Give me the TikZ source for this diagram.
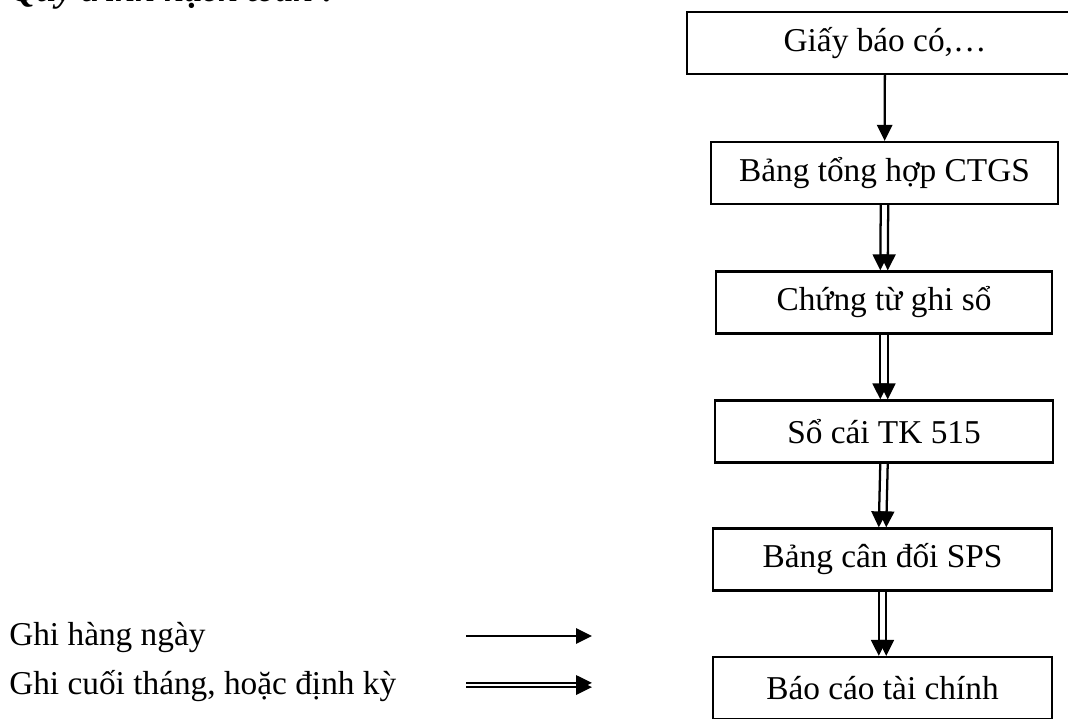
\documentclass[tikz,border=0pt]{standalone}
\usepackage{fontspec}
\setmainfont{Liberation Serif}
\usetikzlibrary{arrows.meta,positioning}

\begin{document}
\begin{tikzpicture}[x=0.75pt,y=-0.75pt]
    \tikzstyle{every node}+=[inner sep=0pt, font=\fontsize{25}{29}\selectfont]
    \tikzstyle{box}=[draw, line width=1.7pt, minimum height=46.5pt]
    \tikzstyle{tip}=[-{Triangle[length=12pt,width=11.5pt]}, line width=1.7pt]
    \useasboundingbox (0,0) rectangle (1068,718);
    % title, cut off at the top of the page
    \node [anchor=base west, font=\fontsize{27}{31}\selectfont\bfseries\itshape] (title) at (10,1) {Quy trình hạch toán :};
    % the chain of books
    \node [box, minimum width=297pt] (giay) at (885,43) {Giấy báo có,…};
    \node [box, minimum width=260pt] (ctgs) at (884.5,173) {Bảng tổng hợp CTGS};
    \node [box, minimum width=252pt] (chungtu) at (884,302.5) {Chứng từ ghi sổ};
    \node [box, minimum width=253.5pt] (socai) at (884,431.5) {Sổ cái TK 515};
    \node [box, minimum width=254pt] (cdsps) at (882.5,559.5) {Bảng cân đối SPS};
    \node [box, minimum width=254pt] (bctc) at (882.5,688) {Báo cáo tài chính};
    \draw [tip] (giay) -- (ctgs);
    \draw [tip] ([xshift=-2.8pt]ctgs.south) -- ([xshift=-2.8pt]chungtu.north);
    \draw [tip] ([xshift=2.8pt]ctgs.south) -- ([xshift=2.8pt]chungtu.north);
    \draw [tip] ([xshift=-2.8pt]chungtu.south) -- ([xshift=-2.8pt]socai.north);
    \draw [tip] ([xshift=2.8pt]chungtu.south) -- ([xshift=2.8pt]socai.north);
    \draw [tip] ([xshift=-2.8pt]socai.south) -- ([xshift=-2.8pt]cdsps.north);
    \draw [tip] ([xshift=2.8pt]socai.south) -- ([xshift=2.8pt]cdsps.north);
    \draw [tip] ([xshift=-2.8pt]cdsps.south) -- ([xshift=-2.8pt]bctc.north);
    \draw [tip] ([xshift=2.8pt]cdsps.south) -- ([xshift=2.8pt]bctc.north);
    % legend
    \node [anchor=base west] (daily) at (9,645) {Ghi hàng ngày};
    \node [anchor=base west] (monthly) at (9,694) {Ghi cuối tháng, hoặc định kỳ};
    \coordinate (d1) at (466,636);
    \coordinate (d2) at (592,636);
    \coordinate (m1) at (466,685);
    \coordinate (m2) at (592,685);
    \draw [tip] (d1) -- (d2);
    \draw [tip, line width=1.1pt] ([yshift=1.6pt]m1) -- ([yshift=1.6pt]m2);
    \draw [tip, line width=1.1pt] ([yshift=-1.6pt]m1) -- ([yshift=-1.6pt]m2);
\end{tikzpicture}
\end{document}
